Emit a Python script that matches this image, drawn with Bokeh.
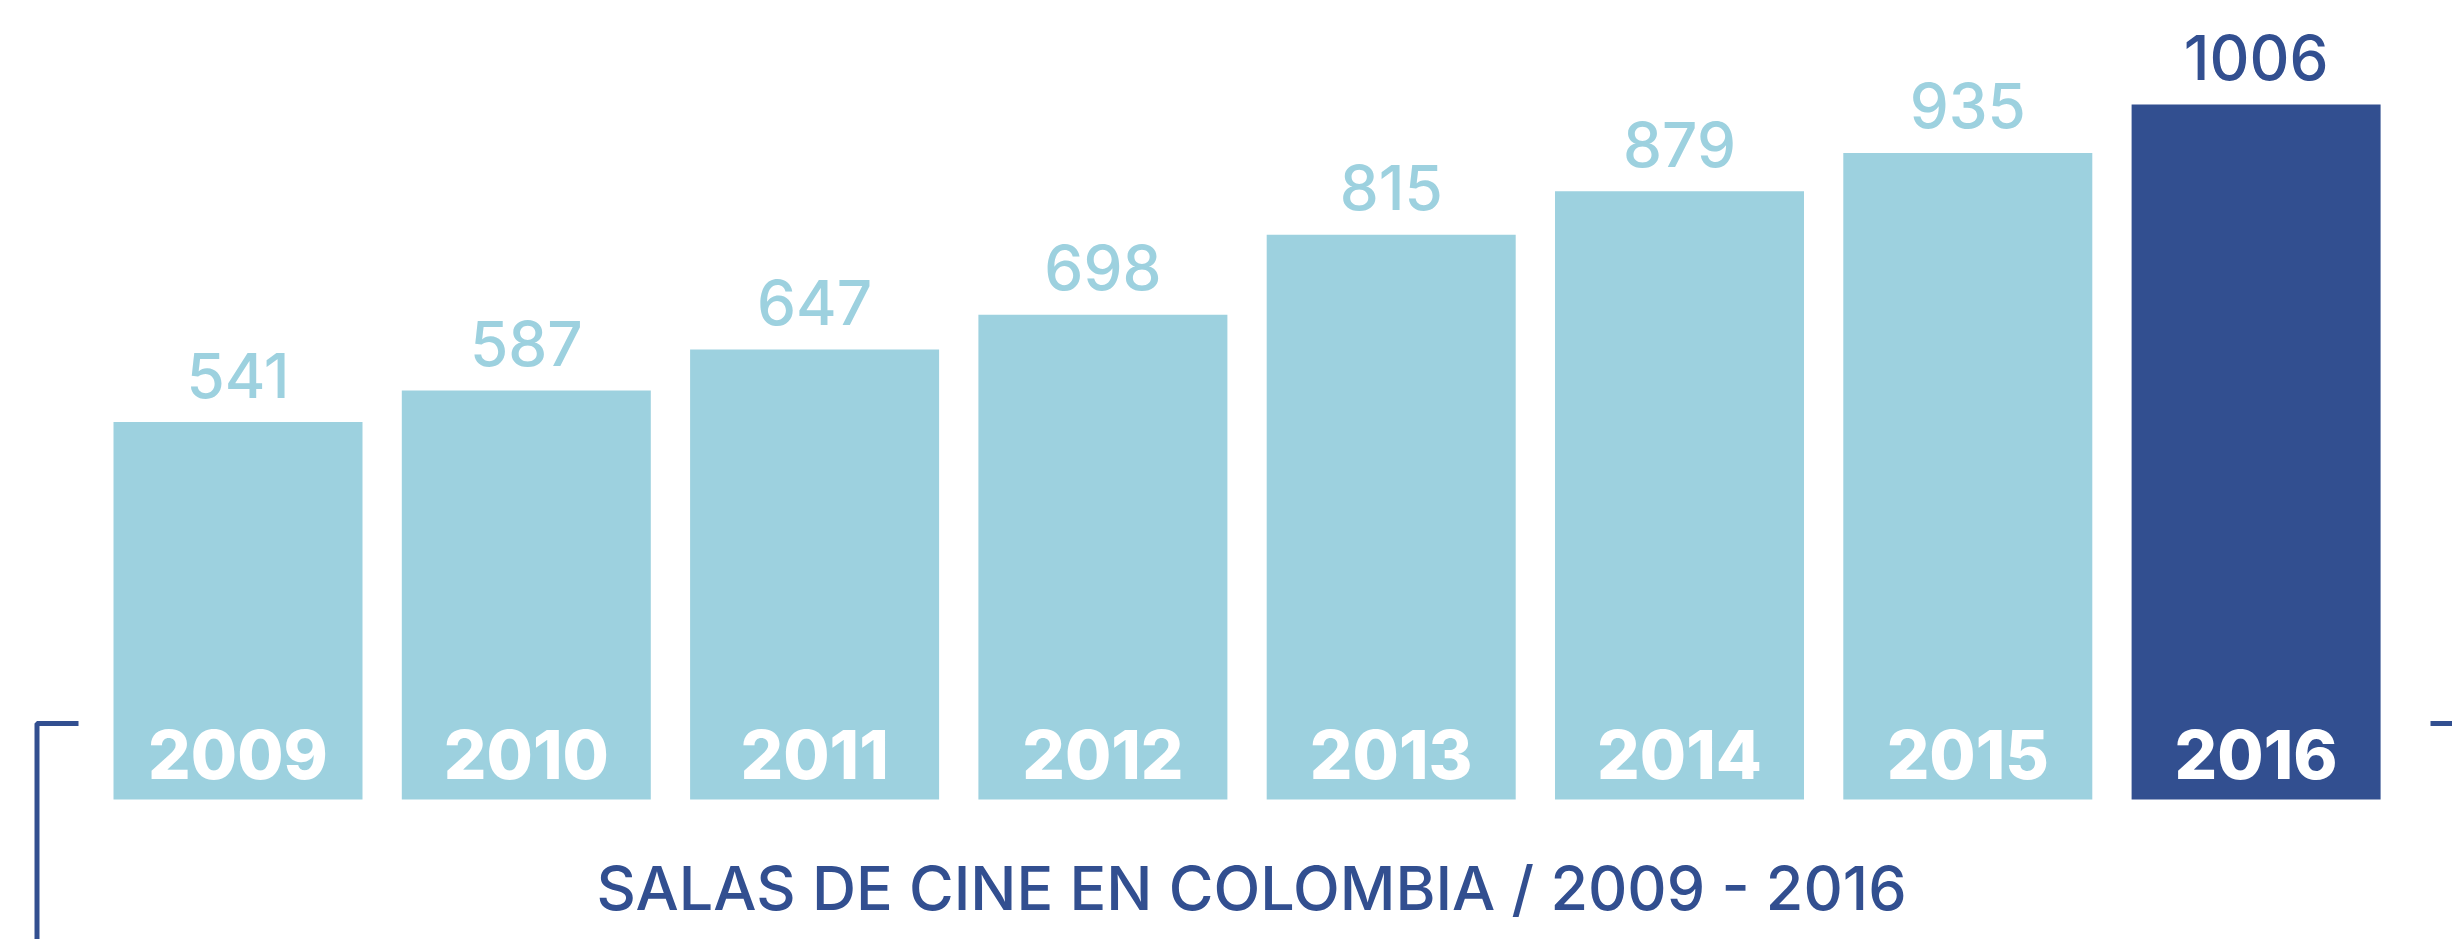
from bokeh.plotting import figure
from bokeh.models import ColumnDataSource, Range1d, Label
from bokeh.core.properties import value
from bokeh.embed import file_html
from bokeh.resources import INLINE

# ---- data ----
years = ["2009", "2010", "2011", "2012", "2013", "2014", "2015", "2016"]
salas = [541, 587, 647, 698, 815, 879, 935, 1006]
title_text = "SALAS DE CINE EN COLOMBIA / 2009 - 2016"

LIGHT = "#9dd1df"
DARK = "#324f90"
colors = [LIGHT] * (len(years) - 1) + [DARK]

W, H = 2452, 939
SX = 288.3          # px per category step
X0 = -237.5 / SX
X1 = X0 + W / SX
SY = 0.683          # px per unit
BASE = -11.7
Y1 = BASE + 799 / SY
Y0 = Y1 - H / SY

def px_x(px):
    return X0 + px / SX

def px_y(py):
    return Y1 - py / SY

idx = list(range(len(years)))
src = ColumnDataSource(dict(
    x=idx, top=salas, year=years, color=colors,
    label=[str(v) for v in salas],
    label_y=[v + 47 / SY for v in salas],
    year_y=[BASE + 45 / SY] * len(years),
))

p = figure(width=W, height=H, output_backend="svg", toolbar_location=None,
           x_range=Range1d(X0, X1), y_range=Range1d(Y0, Y1),
           x_axis_type=None, y_axis_type=None, min_border=0,
           outline_line_color=None, background_fill_color="white",
           border_fill_color="white")
p.grid.visible = False

p.vbar(x="x", top="top", bottom=BASE, width=249 / SX, color="color",
       line_color=None, source=src)

p.text(x="x", y="label_y", text="label", text_color="color",
       text_font=value("Inter Medium, Inter"), text_font_size="62px",
       text_align="center", text_baseline="middle", source=src)

p.text(x="x", y="year_y", text="year", text_color="white",
       text_font=value("Inter ExtraBold, Inter"), text_font_size="67px",
       text_font_style="bold",
       text_align="center", text_baseline="middle", source=src)

# bracket decoration
p.line([px_x(36.5), px_x(36.5), px_x(78)], [px_y(960), px_y(723), px_y(723)],
       line_color=DARK, line_width=5)
p.line([px_x(2430), px_x(2460)], [px_y(723), px_y(723)],
       line_color=DARK, line_width=5)

p.add_layout(Label(x=px_x(1251), y=px_y(887), text=title_text,
                   text_color=DARK, text_font="Inter Medium, Inter",
                   text_font_size="61px",
                   text_align="center", text_baseline="middle"))

open("out.html", "w").write(file_html(p, INLINE))
